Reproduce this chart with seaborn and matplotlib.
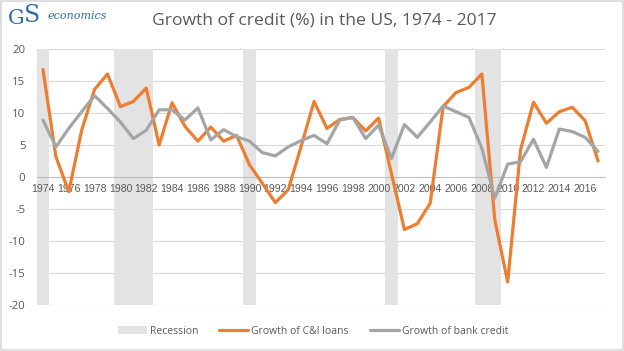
import numpy as np
import pandas as pd
import matplotlib
matplotlib.use("Agg")
import matplotlib.pyplot as plt
from matplotlib.patches import Patch, Rectangle
from matplotlib.lines import Line2D
import seaborn as sns

years = list(range(1974, 2018))
ci_loans = [16.8, 3.2, -2.3, 7.3, 13.7, 16.1, 11.0, 11.8, 13.9, 5.0,
            11.6, 7.9, 5.6, 7.8, 5.6, 6.5, 1.9, -1.0, -4.0, -2.0,
            4.8, 11.8, 7.6, 9.0, 9.3, 7.2, 9.2, 0.5, -8.2, -7.3,
            -4.1, 11.0, 13.2, 14.0, 16.1, -6.7, -16.4, 4.3, 11.7, 8.4,
            10.2, 10.9, 8.8, 2.5]
bank_credit = [8.9, 4.7, 7.6, 10.2, 12.7, 10.7, 8.6, 6.0, 7.3, 10.5,
               10.5, 8.9, 10.8, 5.8, 7.4, 6.3, 5.6, 3.8, 3.3, 4.7,
               5.7, 6.5, 5.2, 8.9, 9.3, 6.0, 8.1, 2.9, 8.2, 6.2,
               8.6, 11.1, 10.2, 9.3, 4.5, -3.3, 2.0, 2.4, 5.9, 1.5,
               7.5, 7.1, 6.2, 4.0]
recession_years = [1974, 1980, 1981, 1982, 1990, 2001, 2008, 2009]
y_ticks = [-20, -15, -10, -5, 0, 5, 10, 15, 20]

ORANGE = "#ED7D31"
GREY = "#A5A5A5"
SHADE = "#E4E3E3"
TXT = "#595959"

sns.set_theme(style="white")
plt.rcParams['font.family'] = ['Open Sans', 'DejaVu Sans']
plt.rcParams['axes.axisbelow'] = False

fig = plt.figure(figsize=(6.24, 3.51), dpi=100)
ax = fig.add_axes([36.5 / 624, 1 - 305 / 351, (604.5 - 36.5) / 624, (305 - 49) / 351])

idx = np.arange(len(years))
df = pd.DataFrame({"i": idx, "year": years, "ci": ci_loans, "bank": bank_credit})
df["rec"] = df["year"].isin(recession_years)

# recession shading
rec = df[df["rec"]]
ax.bar(rec["i"], [40] * len(rec), bottom=-20, width=1.0, color=SHADE, zorder=1.2, linewidth=0)

sns.lineplot(data=df, x="i", y="ci", color=ORANGE, lw=2.3, ax=ax, zorder=3)
sns.lineplot(data=df, x="i", y="bank", color=GREY, lw=2.3, ax=ax, zorder=3)

ax.set_xlim(-0.5, len(years) - 0.5)
ax.set_ylim(-20, 20)
ax.set_yticks(y_ticks)
ax.set_yticklabels([str(v) for v in y_ticks])
ax.tick_params(axis='y', length=0, pad=8, labelsize=8.2, labelcolor=TXT)

ax.set_xticks(idx[::2])
ax.set_xticklabels([str(y) for y in years[::2]])
ax.set_xticks(np.arange(-0.5, len(years)), minor=True)
ax.tick_params(axis='x', which='major', length=0, pad=5, labelsize=7.6, labelcolor=TXT,
               labelfontfamily='Liberation Sans')
ax.tick_params(axis='x', which='minor', length=5, direction='inout', color="#BFBFBF", width=0.8)
ax.xaxis.set_zorder(2.6)
ax.yaxis.set_zorder(2.6)

ax.set_xlabel("")
ax.set_ylabel("")
for s in ["top", "right", "left"]:
    ax.spines[s].set_visible(False)
ax.spines["bottom"].set_position(("data", 0))
ax.spines["bottom"].set_color("#BFBFBF")
ax.spines["bottom"].set_linewidth(0.8)
ax.spines["bottom"].set_zorder(2.5)

for v in y_ticks:
    if v != 0:
        ax.axhline(v, color="#D9D9D9", lw=0.8, zorder=1)

fig.text(0.52, 0.942, "Growth of credit (%) in the US, 1974 - 2017", ha="center", va="center",
         fontsize=12.6, color=TXT)

# logo
fig.text(8 / 624, 1 - 18 / 351, "G", fontsize=15, color="#2F6DA8", va="center", ha="left",
         family=['DejaVu Serif'])
fig.text(24 / 624, 1 - 16 / 351, "S", fontsize=17, color="#2F6DA8", va="center", ha="left",
         family=['DejaVu Serif'])
fig.text(48 / 624, 1 - 16 / 351, "economics", fontsize=8, color="#2F6DA8", va="center", ha="left",
         style="italic", family=['DejaVu Serif'])

handles = [Patch(facecolor=SHADE, edgecolor="none", label="Recession"),
           Line2D([0], [0], color=ORANGE, lw=2.3, label="Growth of C&I loans"),
           Line2D([0], [0], color=GREY, lw=2.3, label="Growth of bank credit")]
leg = fig.legend(handles=handles, loc="center", bbox_to_anchor=(313 / 624, 1 - 331 / 351), ncol=3,
                 frameon=False, fontsize=7.5, handlelength=2.8, handletextpad=0.3, columnspacing=2.0)
for t in leg.get_texts():
    t.set_color(TXT)

fig.patches.append(Rectangle((0.001, 0.002), 0.997, 0.995, transform=fig.transFigure,
                             fill=False, edgecolor="#D9D9D9", lw=1.2))

fig.savefig("out.png", dpi=100, facecolor="white")
